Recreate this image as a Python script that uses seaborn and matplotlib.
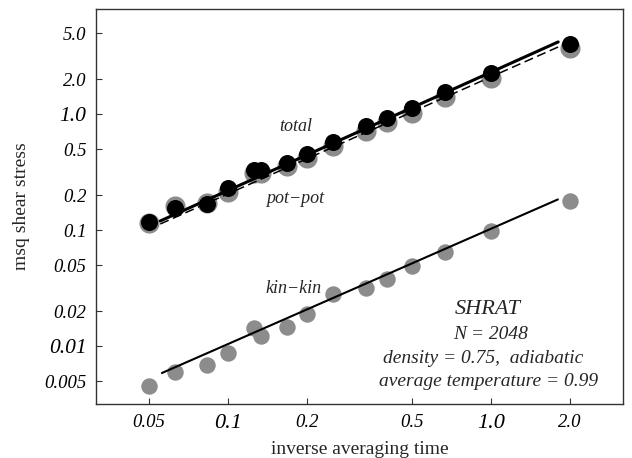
import pandas as pd
import seaborn as sns
import matplotlib.pyplot as plt

# inverse averaging times (x) and the measured shear stress values
inv_time = [0.05, 0.0625, 0.0833, 0.1, 0.125, 0.133, 0.167, 0.2,
            0.25, 0.333, 0.4, 0.5, 0.667, 1.0, 2.0]
total = [0.118, 0.154, 0.167, 0.229, 0.329, 0.329, 0.38, 0.455,
         0.58, 0.79, 0.93, 1.12, 1.56, 2.27, 4.07]
pot_pot = [0.116, 0.16, 0.17, 0.215, 0.31, 0.31, 0.355, 0.42,
           0.53, 0.72, 0.85, 1.02, 1.42, 2.05, 3.7]
kin_kin = [0.00453, 0.006, 0.00687, 0.00867, 0.0142, 0.0122, 0.0147, 0.0189,
           0.0281, 0.0318, 0.0379, 0.049, 0.0643, 0.0989, 0.178]

# power-law fit lines (end points)
fit_x = [0.0551, 1.80]
total_fit = [0.120, 4.20]
pot_fit = [0.113, 3.80]
kin_fit_x = [0.0559, 1.795]
kin_fit = [0.00586, 0.184]

x_ticks = [0.05, 0.1, 0.2, 0.5, 1.0, 2.0]
x_labels = ['0.05', '0.1', '0.2', '0.5', '1.0', '2.0']
y_ticks = [0.005, 0.01, 0.02, 0.05, 0.1, 0.2, 0.5, 1.0, 2.0, 5.0]
y_labels = ['0.005', '0.01', '0.02', '0.05', '0.1', '0.2', '0.5', '1.0', '2.0', '5.0']

df = pd.DataFrame({'x': inv_time, 'total': total, 'pot': pot_pot, 'kin': kin_kin})

sns.set_style('ticks')
plt.rcParams['font.family'] = ['Liberation Serif', 'DejaVu Serif']

fig = plt.figure(figsize=(6.32, 4.58), dpi=100)
ax = fig.add_axes([0.152, 0.118, 0.834, 0.862])
ax.set_xscale('log')
ax.set_yscale('log')

gray = '#8c8c8c'
sns.scatterplot(data=df, x='x', y='pot', color=gray, s=210, linewidth=0, ax=ax, zorder=2)
sns.scatterplot(data=df, x='x', y='kin', color=gray, s=140, linewidth=0, ax=ax, zorder=2)
sns.lineplot(x=fit_x, y=pot_fit, color='black', lw=1.1, dashes=(6, 3), ax=ax, zorder=3)
sns.lineplot(x=fit_x, y=total_fit, color='black', lw=2.2, ax=ax, zorder=3)
sns.lineplot(x=kin_fit_x, y=kin_fit, color='black', lw=1.5, ax=ax, zorder=3)
sns.scatterplot(data=df, x='x', y='total', color='black', s=150, linewidth=0, ax=ax, zorder=4)

ax.set_xlim(0.0314, 3.18)
ax.set_ylim(0.00317, 8.05)
ax.set_xticks(x_ticks)
ax.set_xticklabels(x_labels)
ax.set_yticks(y_ticks)
ax.set_yticklabels(y_labels)
ax.minorticks_off()
ax.tick_params(direction='in', length=4, width=0.8, colors='#333333')
ax.tick_params(axis='x', pad=7)
ax.tick_params(axis='y', pad=7)
for lab in ax.get_xticklabels():
    lab.set_fontstyle('italic')
    lab.set_fontsize(16 if lab.get_text() in {'0.1', '1.0'} else 13.5)
    lab.set_color('black')
for lab in ax.get_yticklabels():
    lab.set_fontstyle('italic')
    lab.set_fontsize(15.5 if lab.get_text() in {'1.0', '0.01'} else 13.5)
    lab.set_color('black')

for sp in ax.spines.values():
    sp.set_visible(True)
    sp.set_linewidth(1.0)
    sp.set_color('#333333')

ax.set_xlabel('inverse averaging time', fontsize=14)
ax.set_ylabel('msq shear stress', fontsize=14)
ax.xaxis.set_label_coords(0.5, -0.094)
ax.yaxis.set_label_coords(-0.125, 0.5)

ax.text(0.18, 0.79, 'total', style='italic', fontsize=13, ha='center', va='center')
ax.text(0.18, 0.189, 'pot\u2212pot', style='italic', fontsize=13, ha='center', va='center')
ax.text(0.177, 0.0316, 'kin\u2212kin', style='italic', fontsize=13, ha='center', va='center')

ax.text(0.744, 0.238, 'SHRAT', style='italic', fontsize=16, ha='center', va='center', transform=ax.transAxes)
ax.text(0.748, 0.175, 'N = 2048', style='italic', fontsize=14, ha='center', va='center', transform=ax.transAxes)
ax.text(0.734, 0.116, 'density = 0.75,  adiabatic', style='italic', fontsize=14, ha='center', va='center', transform=ax.transAxes)
ax.text(0.744, 0.056, 'average temperature = 0.99', style='italic', fontsize=14, ha='center', va='center', transform=ax.transAxes)

fig.savefig('out.png', dpi=100)
